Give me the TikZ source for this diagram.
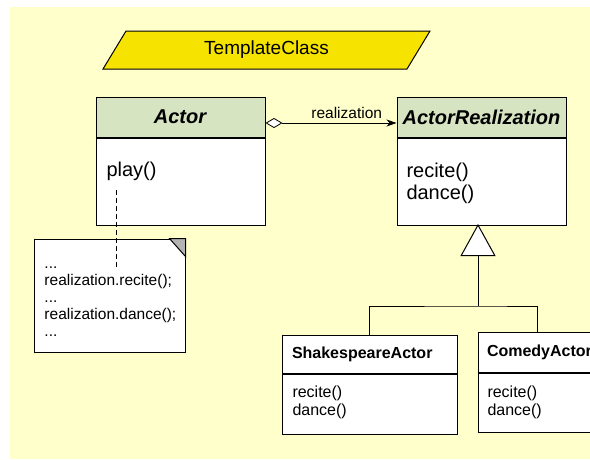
\documentclass[tikz,border=0pt]{standalone}
\usepackage{fontspec}
\setmainfont{Liberation Sans}
\usetikzlibrary{arrows.meta,positioning}
\definecolor{bgyellow}{HTML}{FFFFCC}
\definecolor{tmplyellow}{HTML}{F7E300}
\definecolor{headgreen}{HTML}{D6E4C2}
\definecolor{foldgray}{HTML}{B4B4B4}

\begin{document}
\begin{tikzpicture}[x=1pt, y=-1pt, line width=1pt,
    bigtext/.style={font=\fontsize{20}{22}\selectfont, inner sep=0pt},
    subtext/.style={font=\fontsize{16}{18}\selectfont, inner sep=0pt},
    notetext/.style={font=\fontsize{15.5}{17}\selectfont, inner sep=0pt},
    headbox/.style={draw, fill=headgreen, inner sep=0pt},
    plainbox/.style={draw, fill=white, inner sep=0pt}]

    \useasboundingbox (0,0) rectangle (590,459);
    \clip (0,0) rectangle (590,459);
    \fill[bgyellow] (10,7) rectangle (590,459);

    % Template class banner
    \draw[fill=tmplyellow] (126,31) -- (430,31) -- (407,69) -- (103,69) -- cycle;
    \node[font=\fontsize{19}{21}\selectfont] (tmpl) at (266.5,50) {TemplateClass};

    % Actor
    \node[headbox, bigtext, minimum width=169pt, minimum height=40pt] (actor) at (180.5,117) {\textbf{\textit{Actor}}};
    \node[plainbox, minimum width=169pt, minimum height=87pt, anchor=north] (actorbody) at (actor.south) {};
    \draw[line width=2pt] (actor.south west) -- (actor.south east);
    \node[bigtext, anchor=west] (play) at (106,171) {play()};

    % ActorRealization
    \node[headbox, bigtext, minimum width=169pt, minimum height=40pt] (real) at (481.5,117) {\textbf{\textit{ActorRealization}}};
    \node[plainbox, minimum width=169pt, minimum height=87pt, anchor=north] (realbody) at (real.south) {};
    \draw[line width=2pt] (real.south west) -- (real.south east);
    \node[bigtext, anchor=west, align=left] (realops) at (406,183) {recite()\\dance()};

    % Aggregation
    \draw[line width=0.8pt, {Diamond[fill=white, length=17pt, width=10pt]}-{Stealth[length=10pt, width=7pt, inset=3pt]}]
        ([yshift=-6pt]actor.east) -- ([yshift=-6pt]real.west) node[pos=0.62, above=4pt, notetext] (reallabel) {realization};

    % Note
    \node[plainbox, minimum width=151pt, minimum height=113pt] (note) at (109.5,295.5) {};
    \draw[fill=foldgray] ([xshift=-16pt]note.north east) -- (note.north east) -- ([yshift=-18pt]note.north east) -- cycle;
    \node[notetext, anchor=west, align=left] (notetxt) at (44,302) {...\\realization.recite();\\...\\realization.dance();\\...};
    \coordinate (dashtop) at (116,190);
    \coordinate (dashend) at (116,267);
    \draw[line width=0.8pt, dash pattern=on 5pt off 3pt] (dashtop) -- (dashend);

    % Subclasses
    \node[plainbox, subtext, minimum width=175pt, minimum height=38pt, text width=155pt, align=left] (shake) at (369.5,354) {\textbf{ShakespeareActor}};
    \node[plainbox, minimum width=175pt, minimum height=60pt, anchor=north] (shakebody) at (shake.south) {};
    \node[subtext, anchor=west, align=left] (shakeops) at (292,402) {recite()\\dance()};

    \node[plainbox, subtext, minimum width=175pt, minimum height=40pt, text width=157pt, align=left] (comedy) at (565.5,352) {\textbf{ComedyActor}};
    \node[plainbox, minimum width=175pt, minimum height=59pt, anchor=north] (comedybody) at (comedy.south) {};
    \draw[line width=2pt] (comedy.south west) -- (comedy.south east);
    \node[subtext, anchor=west, align=left] (comedyops) at (487,402) {recite()\\dance()};

    % Generalization
    \coordinate (apex) at (478,224);
    \coordinate (fork) at (478,306);
    \coordinate (comedytop) at (537,332);
    \draw[-{Triangle[fill=white, length=32pt, width=35pt]}] (fork) -- (apex);
    \draw (shake.north) |- (fork) -| (comedytop);
\end{tikzpicture}
\end{document}
